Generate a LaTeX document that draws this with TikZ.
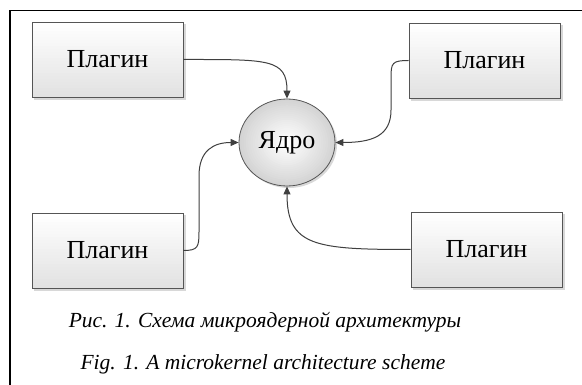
\documentclass[tikz,border=0pt]{standalone}
\usepackage{fontspec}
\setmainfont{Liberation Serif}
\usetikzlibrary{arrows.meta,shapes.geometric}

\definecolor{edgegray}{HTML}{555555}
\definecolor{wiregray}{HTML}{3F3F3F}
\definecolor{shadegray}{HTML}{E2E2E2}
\definecolor{coregray}{HTML}{D4D4D4}
\definecolor{shadowgray}{HTML}{D8D8D8}

\pgfdeclarelayer{background}
\pgfsetlayers{background,main}

\newcommand\bodyfont{\fontsize{26}{26}\selectfont}
\newcommand\capfont{\fontsize{21.5}{21.5}\selectfont\itshape}

\tikzset{
  plugin/.style={draw=edgegray, line width=0.8pt, rectangle,
    minimum width=151pt, minimum height=75pt, inner sep=0pt, font=\bodyfont},
  core/.style={draw=edgegray, line width=0.8pt, ellipse,
    minimum width=96pt, minimum height=87pt, inner sep=0pt, font=\bodyfont},
  wire/.style={draw=wiregray, line width=1pt,
    -{Triangle[length=8pt,width=7pt]}},
  caption/.style={font=\capfont, anchor=base}
}

% soft shadow plus a top-to-bottom fade drawn in bands behind a plugin box
\newcommand\boxbackdrop[1]{%
  \path (#1.north west) coordinate (bd-nw);
  \fill[shadowgray] ([shift={(2.5,2.5)}]#1.north west) rectangle ([shift={(2.5,2.5)}]#1.south east);
  \foreach \i in {0,...,24} {
    \pgfmathsetmacro\mix{\i*100/24}
    \fill[shadegray!\mix!white] ([yshift={-\i*3pt}]bd-nw) rectangle ++(151,3.3);
  }%
}

\begin{document}
\begin{tikzpicture}[x=1pt,y=-1pt]
  \useasboundingbox (0,0) rectangle (582,385);

  % frame: top and left rules only
  \draw[line width=1.3pt] (10,385) -- (10,10.5) -- (582,10.5);

  % kernel and plugins
  \node[core] (core) at (287,142.5) {Ядро};
  \node[plugin] (p1) at (107.5,59.5) {Плагин};
  \node[plugin] (p2) at (484.5,60.5) {Плагин};
  \node[plugin] (p3) at (107.5,250.5) {Плагин};
  \node[plugin] (p4) at (486.5,249.5) {Плагин};

  \begin{pgfonlayer}{background}
    \boxbackdrop{p1}
    \boxbackdrop{p2}
    \boxbackdrop{p3}
    \boxbackdrop{p4}
    % radial fade of the kernel, outer rim grey, centre white
    \fill[shadowgray] ([shift={(2,2)}]core.center) ellipse [x radius=48, y radius=43.5];
    \foreach \i in {0,...,20} {
      \pgfmathsetmacro\mix{100-\i*5}
      \pgfmathsetmacro\k{1-\i/21}
      \fill[coregray!\mix!white] (core.center) ellipse [x radius=48*\k, y radius=43.5*\k];
    }
  \end{pgfonlayer}

  % connectors from every plugin to the kernel
  \draw[wire] (p1.east) .. controls +(85,0) and +(0,-40) .. (core.north);
  \draw[wire] (p2.west) .. controls (392,60.5) and (391,63) .. (391,78)
              -- (391,110) .. controls (391,136) and (372,142.5) .. (core.east);
  \draw[wire] (p3.east) .. controls (198,250.5) and (199,247) .. (199,232)
              -- (199,176) .. controls (199,150) and (214,142.5) .. (core.west);
  \draw[wire] (p4.west) .. controls +(-95,0) and +(0,60) .. (core.south);

  % caption
  \node[caption] (cap1) at (265,328) {Рис. 1. Схема микроядерной архитектуры};
  \node[caption] (cap2) at (263,370) {Fig. 1. A microkernel architecture scheme};
\end{tikzpicture}
\end{document}
